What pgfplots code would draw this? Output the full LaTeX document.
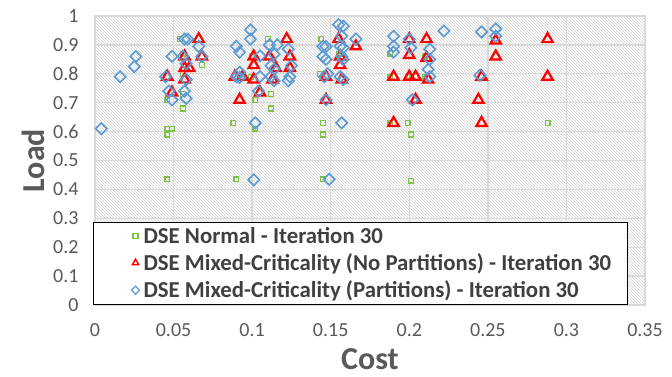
\documentclass[border=0pt]{standalone}
\usepackage{fontspec}
\setmainfont{Carlito}
\usepackage{pgfplots}
\pgfplotsset{compat=1.18}
\usetikzlibrary{patterns}
\definecolor{gridgray}{HTML}{D9D9D9}
\definecolor{txtgray}{HTML}{595959}
\definecolor{leggray}{HTML}{404040}
\definecolor{mkgreen}{HTML}{7DC242}
\definecolor{mkred}{HTML}{FF0000}
\definecolor{mkblue}{HTML}{5B9BD5}

\pgfplotstableread{
x y
0.054 0.92
0.056 0.87
0.068 0.83
0.056 0.73
0.046 0.71
0.056 0.68
0.046 0.61
0.049 0.61
0.046 0.59
0.046 0.435
0.056 0.80
0.088 0.63
0.090 0.435
0.102 0.61
0.102 0.71
0.099 0.79
0.100 0.86
0.110 0.92
0.112 0.73
0.112 0.68
0.144 0.92
0.145 0.63
0.145 0.59
0.145 0.435
0.143 0.80
0.155 0.87
0.188 0.87
0.188 0.79
0.188 0.63
0.199 0.79
0.199 0.63
0.201 0.59
0.201 0.43
0.210 0.86
0.210 0.79
0.288 0.63
}\normaldata

\pgfplotstableread{
x y
0.066 0.92
0.046 0.79
0.057 0.82
0.060 0.82
0.057 0.78
0.068 0.86
0.049 0.735
0.057 0.86
0.092 0.71
0.101 0.86
0.101 0.83
0.089 0.79
0.094 0.79
0.101 0.78
0.105 0.735
0.111 0.86
0.115 0.82
0.113 0.78
0.122 0.92
0.124 0.86
0.124 0.82
0.155 0.92
0.166 0.895
0.156 0.83
0.147 0.79
0.157 0.78
0.147 0.71
0.156 0.86
0.190 0.79
0.190 0.63
0.200 0.92
0.200 0.865
0.200 0.79
0.204 0.79
0.204 0.71
0.211 0.92
0.211 0.855
0.212 0.78
0.244 0.71
0.246 0.63
0.246 0.79
0.255 0.915
0.255 0.86
0.288 0.92
0.288 0.79
}\nopartdata

\pgfplotstableread{
x y
0.004 0.61
0.016 0.79
0.025 0.825
0.026 0.86
0.045 0.79
0.049 0.86
0.047 0.74
0.049 0.71
0.057 0.92
0.059 0.92
0.066 0.895
0.068 0.86
0.056 0.86
0.058 0.835
0.058 0.78
0.057 0.74
0.058 0.715
0.090 0.895
0.092 0.875
0.090 0.79
0.092 0.805
0.092 0.787
0.099 0.952
0.099 0.92
0.102 0.63
0.101 0.433
0.104 0.74
0.105 0.862
0.105 0.79
0.111 0.90
0.116 0.90
0.114 0.868
0.112 0.828
0.114 0.816
0.112 0.79
0.114 0.776
0.123 0.885
0.125 0.828
0.124 0.79
0.123 0.776
0.145 0.895
0.147 0.895
0.145 0.86
0.147 0.85
0.146 0.79
0.148 0.80
0.147 0.71
0.149 0.435
0.155 0.97
0.158 0.965
0.157 0.93
0.156 0.895
0.158 0.89
0.157 0.86
0.158 0.85
0.156 0.79
0.158 0.78
0.157 0.63
0.166 0.92
0.190 0.93
0.190 0.895
0.190 0.875
0.200 0.92
0.201 0.89
0.202 0.71
0.213 0.885
0.213 0.85
0.212 0.815
0.213 0.79
0.222 0.948
0.246 0.945
0.245 0.795
0.255 0.955
0.255 0.93
}\partdata

\begin{document}
\begin{tikzpicture}
\begin{axis}[
  scale only axis, width=550pt, height=289pt,
  xmin=0, xmax=0.35, ymin=0, ymax=1,
  xtick={0,0.05,0.1,0.15,0.2,0.25,0.3,0.35},
  xticklabels={0,0.05,0.1,0.15,0.2,0.25,0.3,0.35},
  ytick={0,0.1,0.2,0.3,0.4,0.5,0.6,0.7,0.8,0.9,1},
  yticklabels={0,0.1,0.2,0.3,0.4,0.5,0.6,0.7,0.8,0.9,1},
  major tick length=0pt,
  grid=major,
  major grid style={draw=gridgray, line width=1.3pt},
  axis line style={draw=gridgray, line width=1.3pt},
  axis background/.style={fill=white, postaction={pattern=north west lines, pattern color=gray!35}},
  tick label style={font=\fontsize{20}{24}\selectfont, text=txtgray},
  xticklabel style={yshift=-15pt},
  yticklabel style={xshift=-13pt},
  xlabel={Cost}, ylabel={Load},
  label style={font=\fontsize{32}{38}\selectfont\bfseries, text=txtgray},
  xlabel style={at={(axis description cs:0.5,-0.187)}, anchor=center},
  ylabel style={at={(axis description cs:-0.1127,0.5)}, anchor=center},
  legend cell align=left,
  legend style={at={(axis description cs:0,0)}, anchor=south west, xshift=-2pt,
    draw=black, line width=1.1pt, fill=white, inner xsep=14pt, inner ysep=3pt,
    font=\fontsize{22.8}{26}\selectfont\bfseries, text=leggray,
    row sep=5pt},
  legend image code/.code={%
    \path[draw=none] (0pt,0pt) rectangle (34pt,0pt);
    \draw[#1] plot coordinates {(28pt,0pt)};},
]
\addplot[only marks, color=mkgreen, mark=square, mark size=2.4pt, mark options={line width=1.3pt},
  legend image post style={mark size=2.4pt}] table {\normaldata};
\addlegendentry{DSE Normal - Iteration 30}
\addplot[only marks, color=mkred, mark=triangle, mark size=6pt, mark options={line width=2.2pt},
  legend image post style={mark size=3.6pt, mark options={line width=1.4pt}}] table {\nopartdata};
\addlegendentry{DSE Mixed-Criticality (No Partitions) - Iteration 30}
\addplot[only marks, color=mkblue, mark=square, mark size=4pt, mark options={rotate=45, line width=1.6pt},
  legend image post style={mark size=2.8pt, mark options={rotate=45, line width=1.2pt}}] table {\partdata};
\addlegendentry{DSE Mixed-Criticality (Partitions) - Iteration 30}
\end{axis}
\pgfresetboundingbox
\useasboundingbox ([shift={(-95pt,-72pt)}]current axis.south west) rectangle ([shift={(27pt,16pt)}]current axis.north east);
\end{tikzpicture}
\end{document}
